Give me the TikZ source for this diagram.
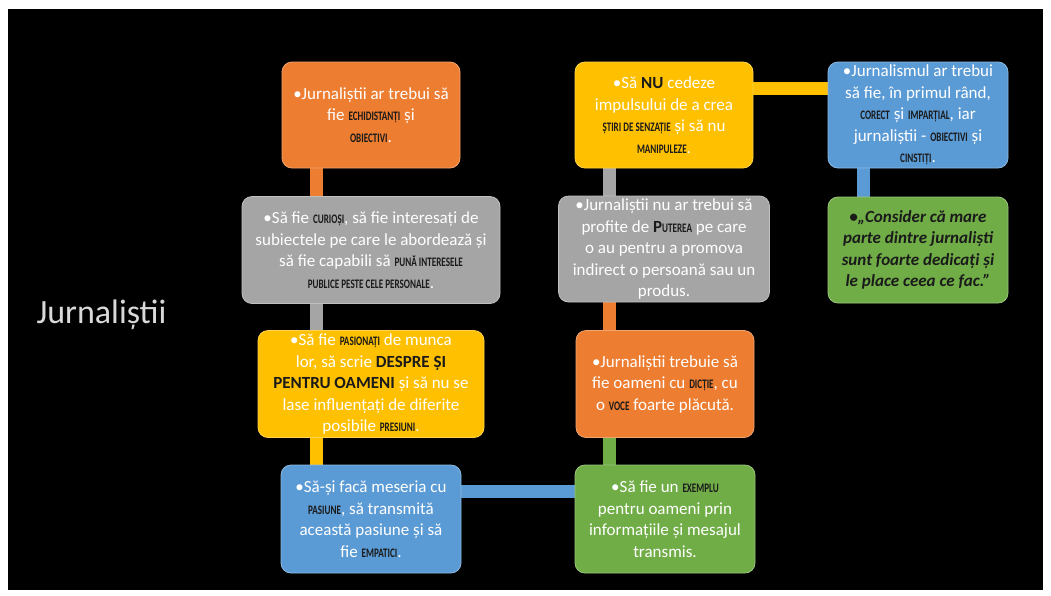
\documentclass[tikz,border=0pt]{standalone}
\usepackage{fontspec}
\setmainfont{Carlito}
\newfontfamily\kwfont{Carlito}[FakeStretch=0.7]
\usetikzlibrary{backgrounds}
\definecolor{orangeC}{HTML}{ED7D31}
\definecolor{grayC}{HTML}{A5A5A5}
\definecolor{yellowC}{HTML}{FFC000}
\definecolor{blueC}{HTML}{5B9BD5}
\definecolor{greenC}{HTML}{70AD47}
\definecolor{kwC}{HTML}{1A1A1A}
% key words in the boxes
\newcommand{\kw}[1]{{\kwfont\bfseries\fontsize{13}{21.5}\selectfont\color{kwC}#1}}
\newcommand{\kwbig}[1]{{\bfseries\fontsize{17}{21.5}\selectfont\color{kwC}#1}}
\begin{document}
\begin{tikzpicture}[x=1pt,y=-1pt,
	box/.style={rectangle,rounded corners=10pt,fill=#1,draw=#1!70!white,line width=0.8pt,text=white,align=center,font=\fontsize{17}{21.5}\selectfont,inner sep=0pt},
	bar/.style={line width=13pt,draw=#1}]
	\useasboundingbox (0,0) rectangle (1051,595);
	\node[text=white!85!black,font=\fontsize{34}{40}\selectfont,anchor=west] (title) at (33,315) {Jurnaliștii};
	% first column
	\node[box=orangeC,minimum width=178pt,minimum height=106pt] (o1) at (371,115) {•Jurnaliștii ar trebui să\\ fie \kw{ECHIDISTANȚI} și\\ \kw{OBIECTIVI}.};
	\node[box=grayC,minimum width=258pt,minimum height=107pt] (g1) at (371,250) {•Să fie \kw{CURIOȘI}, să fie interesați de\\ subiectele pe care le abordează și\\ să fie capabili să \kw{PUNĂ INTERESELE}\\ \kw{PUBLICE PESTE CELE PERSONALE}.};
	\node[box=yellowC,minimum width=226pt,minimum height=107pt] (y1) at (371,384) {•Să fie \kw{PASIONAȚI} de munca\\ lor, să scrie \kwbig{DESPRE ȘI}\\ \kwbig{PENTRU OAMENI} și să nu se\\ lase influențați de diferite\\ posibile \kw{PRESIUNI}.};
	\node[box=blueC,minimum width=180pt,minimum height=108pt] (b1) at (371,519) {•Să-și facă meseria cu\\ \kw{PASIUNE}, să transmită\\ această pasiune și să\\ fie \kw{EMPATICI}.};
	% second column
	\node[box=greenC,minimum width=180pt,minimum height=108pt] (gr2) at (665,519) {•Să fie un \kw{EXEMPLU}\\ pentru oameni prin\\ informațiile și mesajul\\ transmis.};
	\node[box=orangeC,minimum width=178pt,minimum height=107pt] (or2) at (665,384) {•Jurnaliștii trebuie să\\ fie oameni cu \kw{DICȚIE}, cu\\ o \kw{VOCE} foarte plăcută.};
	\node[box=grayC,minimum width=211pt,minimum height=106pt] (g2) at (664,249) {•Jurnaliștii nu ar trebui să\\ profite de {\bfseries\color{kwC}P}\kw{UTEREA} pe care\\ o au pentru a promova\\ indirect o persoană sau un\\ produs.};
	\node[box=yellowC,minimum width=178pt,minimum height=106pt] (y2) at (664,115) {•Să \kwbig{NU} cedeze\\ impulsului de a crea\\ \kw{ȘTIRI DE SENZAȚIE} și să nu\\ \kw{MANIPULEZE}.};
	% third column
	\node[box=blueC,minimum width=180pt,minimum height=106pt] (b3) at (918,115) {•Jurnalismul ar trebui\\ să fie, în primul rând,\\ \kw{CORECT} și \kw{IMPARȚIAL}, iar\\ jurnaliștii - \kw{OBIECTIVI} și\\ \kw{CINSTIȚI}.};
	\node[box=greenC,minimum width=180pt,minimum height=106pt,text=kwC,font=\fontsize{17}{21.5}\selectfont\bfseries\itshape] (gr3) at (918,250) {•„Consider că mare\\ parte dintre jurnaliști\\ sunt foarte dedicați și\\ le place ceea ce fac.”};
	% connectors behind the boxes
	\begin{scope}[on background layer]
		\fill[white] (0,0) rectangle (1051,595);
		\fill[black] (8,9) rectangle (1043,590);
		\draw[bar=orangeC] (316,0 |- o1.south) -- (316,0 |- g1.north);
		\draw[bar=grayC] (316,0 |- g1.south) -- (316,0 |- y1.north);
		\draw[bar=yellowC] (316,0 |- y1.south) -- (316,0 |- b1.north);
		\draw[bar=blueC] (b1.east |- 0,491) -- (gr2.west |- 0,491);
		\draw[bar=greenC] (609,0 |- gr2.north) -- (609,0 |- or2.south);
		\draw[bar=orangeC] (609,0 |- or2.north) -- (609,0 |- g2.south);
		\draw[bar=grayC] (609,0 |- g2.north) -- (609,0 |- y2.south);
		\draw[bar=yellowC] (y2.east |- 0,88) -- (b3.west |- 0,88);
		\draw[bar=blueC] (863,0 |- b3.south) -- (863,0 |- gr3.north);
	\end{scope}
\end{tikzpicture}
\end{document}
